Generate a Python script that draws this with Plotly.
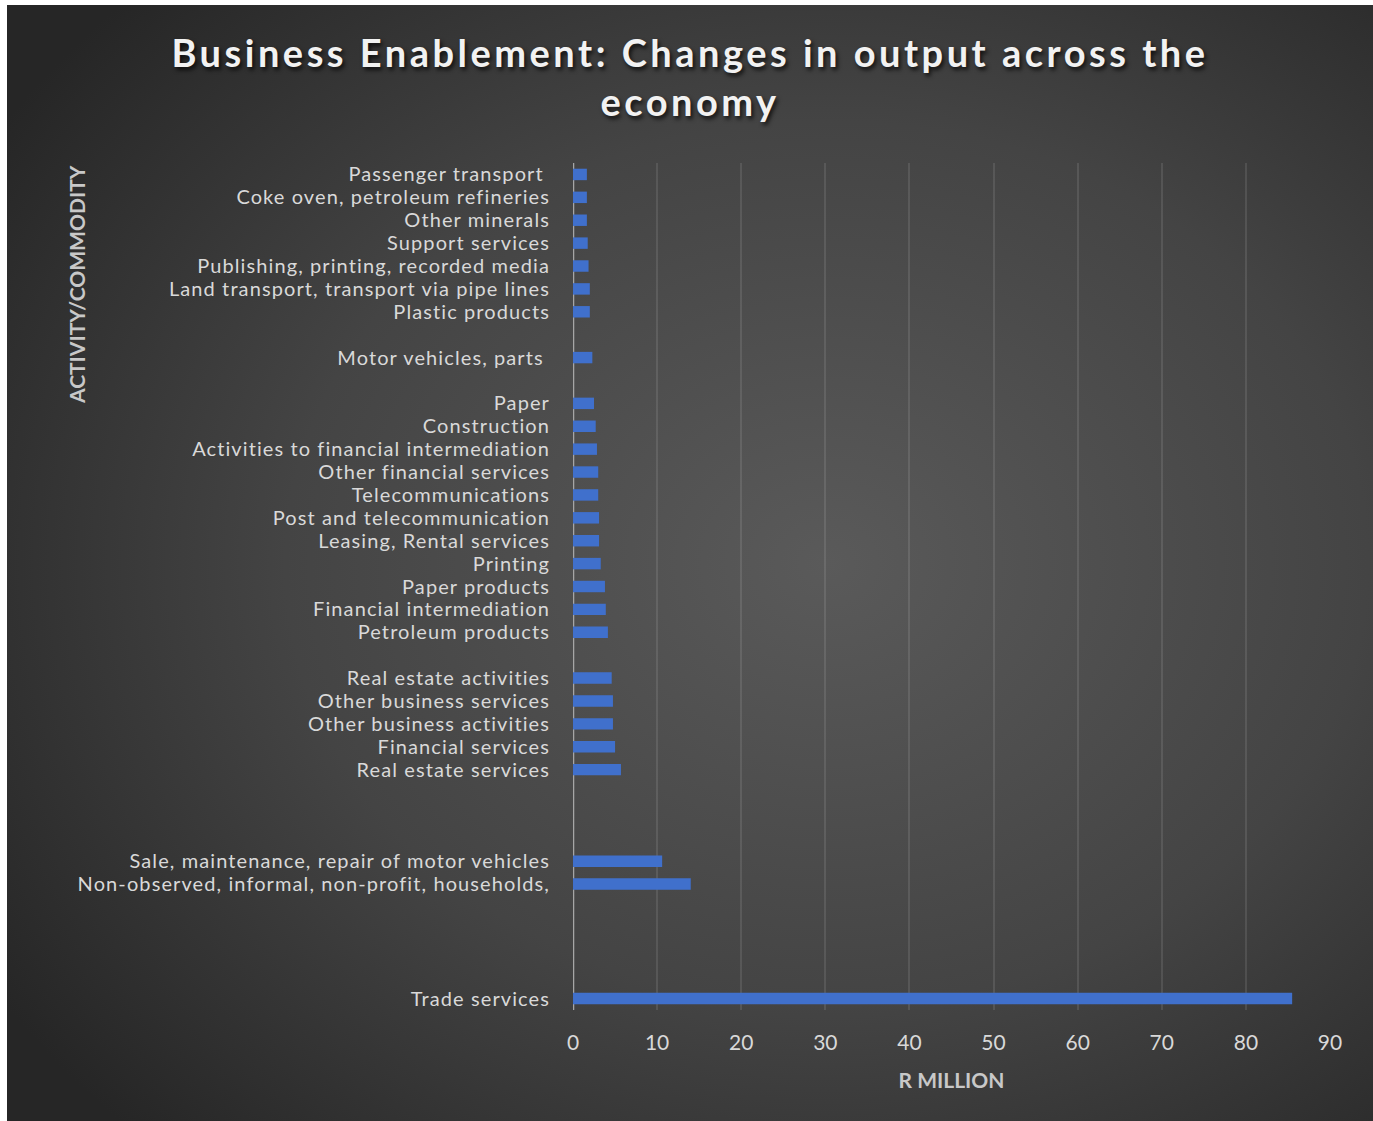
import base64
import plotly.graph_objects as go

# Categories top to bottom; empty strings are blank rows in the category axis
categories = [
    "Passenger transport\u00a0",
    "Coke oven, petroleum refineries",
    "Other minerals",
    "Support services",
    "Publishing, printing, recorded media",
    "Land transport, transport via pipe lines",
    "Plastic products",
    "",
    "Motor vehicles, parts\u00a0",
    "",
    "Paper",
    "Construction",
    "Activities to financial intermediation",
    "Other financial services",
    "Telecommunications",
    "Post and telecommunication",
    "Leasing, Rental services",
    "Printing",
    "Paper products",
    "Financial intermediation",
    "Petroleum products",
    "",
    "Real estate activities",
    "Other business services",
    "Other business activities",
    "Financial services",
    "Real estate services",
    "",
    "",
    "",
    "Sale, maintenance, repair of motor vehicles",
    "Non-observed, informal, non-profit, households,",
    "",
    "",
    "",
    "",
    "Trade services",
]

# Output change, R million (None = blank row)
output_change = [
    1.65, 1.65, 1.65, 1.75, 1.85, 2.0, 2.0,
    None,
    2.3,
    None,
    2.5, 2.7, 2.85, 3.0, 3.0, 3.1, 3.1, 3.3, 3.8, 3.9, 4.15,
    None,
    4.6, 4.75, 4.75, 5.0, 5.7,
    None, None, None,
    10.6, 14.0,
    None, None, None, None,
    85.5,
]

x_ticks = [0, 10, 20, 30, 40, 50, 60, 70, 80, 90]

W, H = 1373, 1121
M_L, M_R, M_T, M_B = 573, 43, 163, 111
FONT = "Lato, 'Open Sans', sans-serif"

rows = list(range(len(categories)))
tick_labels = [
    f"<span style='letter-spacing:1.1px'>{c}</span>" if c else "" for c in categories
]

fig = go.Figure(
    go.Bar(
        x=output_change,
        y=rows,
        orientation="h",
        marker=dict(color="#4070cc", line=dict(width=0)),
        hoverinfo="x+text",
        text=categories,
        textposition="none",
    )
)

# Radial dark-grey backdrop behind the whole chart
svg = (
    "<svg xmlns='http://www.w3.org/2000/svg' width='1366' height='1116' "
    "preserveAspectRatio='none'><defs>"
    "<radialGradient id='g' cx='0.6' cy='0.5' r='0.72'>"
    "<stop offset='0' stop-color='#5a5a5a'/>"
    "<stop offset='0.55' stop-color='#444444'/>"
    "<stop offset='1' stop-color='#262626'/>"
    "</radialGradient></defs>"
    "<rect width='100%' height='100%' fill='url(#g)'/></svg>"
)
src = "data:image/svg+xml;base64," + base64.b64encode(svg.encode()).decode()

pw = W - M_L - M_R
ph = H - M_T - M_B
bg_left, bg_top = 7, 5
fig.add_layout_image(
    source=src,
    xref="paper", yref="paper",
    x=(bg_left - M_L) / pw,
    y=(H - M_B - bg_top) / ph,
    sizex=(W - bg_left) / pw,
    sizey=(H - bg_top) / ph,
    xanchor="left", yanchor="top",
    sizing="stretch",
    layer="below",
)

fig.update_layout(
    width=W,
    height=H,
    margin=dict(l=M_L, r=M_R, t=M_T, b=M_B, pad=0),
    paper_bgcolor="#ffffff",
    plot_bgcolor="rgba(0,0,0,0)",
    bargap=0.5,
    showlegend=False,
    title=dict(
        text=(
            "<span style='letter-spacing:3.5px'>Business Enablement: Changes in output across the"
            "<br>economy</span>"
        ),
        x=690 / W,
        xanchor="center",
        y=1 - 67 / H,
        yanchor="top",
        font=dict(family=FONT, size=38, color="#f2f2f2", weight="bold",
                  shadow="2px 3px 4px rgba(0,0,0,0.75)"),
    ),
    xaxis=dict(
        range=[0, 90],
        tickvals=x_ticks,
        showgrid=True,
        gridcolor="rgba(255,255,255,0.10)",
        gridwidth=1.5,
        zeroline=False,
        showline=False,
        ticks="",
        ticklabelstandoff=18,
        tickfont=dict(family=FONT, size=21, color="#d9d9d9"),
        title=dict(
            text="R MILLION",
            standoff=20,
            font=dict(family=FONT, size=21, color="#c8c8c8", weight="bold"),
        ),
    ),
    yaxis=dict(
        range=[len(categories) - 0.5, -0.5],
        tickvals=rows,
        ticktext=tick_labels,
        showgrid=False,
        zeroline=False,
        showline=False,
        ticks="",
        ticklabelstandoff=22,
        tickfont=dict(family=FONT, size=20, color="#d9d9d9"),
    ),
    annotations=[
        dict(
            text="ACTIVITY/COMMODITY",
            xref="paper", yref="paper",
            x=(76 - M_L) / pw,
            y=(H - M_B - 285) / ph,
            xanchor="center",
            yanchor="middle",
            showarrow=False,
            textangle=-90,
            font=dict(family=FONT, size=21, color="#c8c8c8", weight="bold"),
        )
    ],
    shapes=[
        # category axis line at x = 0
        dict(type="line", xref="x", yref="paper", x0=0, x1=0, y0=0, y1=1,
             line=dict(color="#a6a6a6", width=2.5), layer="below"),
    ],
)

fig.write_html("out.html")
